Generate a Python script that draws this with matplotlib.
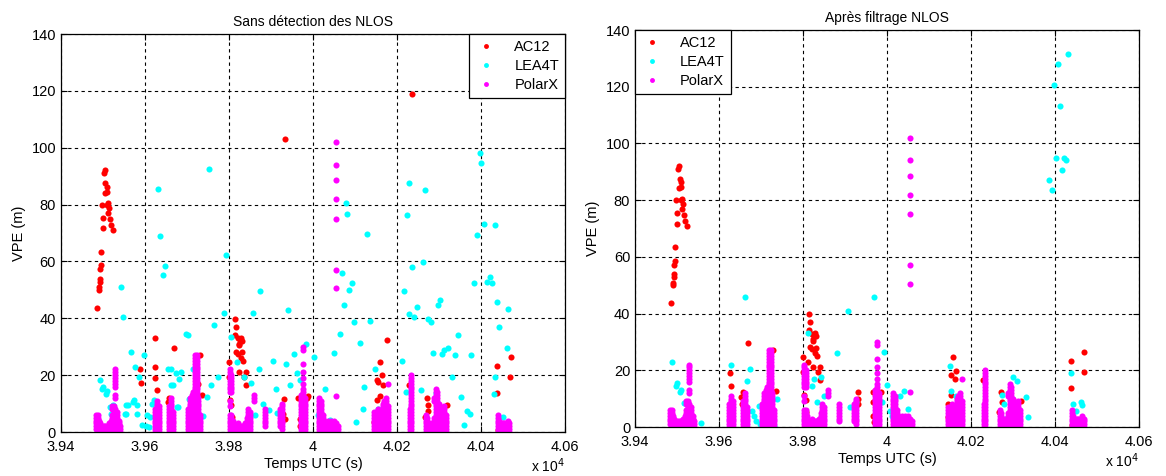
import matplotlib.pyplot as plt
from matplotlib.ticker import FuncFormatter, MultipleLocator

plt.rcParams['font.family'] = ['Liberation Sans', 'DejaVu Sans']

# AC12 without NLOS detection
ac12_raw_t = [39486, 39490, 39491, 39492, 39492, 39494, 39495, 39495, 39499, 39499, 39497, 39504,
              39502, 39506, 39509, 39505, 39510, 39514, 39513, 39516, 39519, 39523, 39509, 39512,
              39623, 39623, 39625, 39629, 39588, 39590, 39670, 39658, 39654, 39661, 39730, 39736, 39726,
              39814, 39816, 39815, 39821, 39826, 39830, 39824, 39817, 39821, 39831, 39829, 39833, 39824,
              39836, 39840, 39801, 39799, 39803, 39806, 39808, 39840, 39825, 39828,
              39933, 39930, 39928, 39933, 39965, 39969, 39968, 39988, 39985,
              40235, 40176, 40159, 40153, 40164, 40167, 40156, 40153, 40146, 40160,
              40229, 40272, 40274, 40266, 40275, 40320, 40439, 40439, 40441, 40472, 40470]
ac12_raw_vpe = [43.6, 50.1, 50.9, 52.9, 54.0, 57.2, 58.6, 63.5, 71.6, 75.4, 80.0, 92.0,
                91.0, 87.5, 86.3, 84.2, 79.9, 78.7, 77.0, 74.8, 72.8, 71.0, 84.5, 80.5,
                32.9, 22.9, 19.0, 14.7, 22.0, 17.4, 29.7, 12.0, 10.6, 7.6, 27.1, 12.9, 17.0,
                39.9, 37.0, 34.3, 32.9, 32.5, 32.0, 31.0, 28.2, 27.5, 28.0, 26.2, 24.9, 21.1,
                19.5, 16.5, 24.7, 19.4, 11.2, 9.4, 5.3, 21.1, 30.5, 33.0,
                103.1, 11.7, 6.5, 4.7, 12.1, 4.7, 2.0, 12.6, 12.0,
                119.0, 32.5, 24.7, 18.2, 20.0, 16.4, 17.5, 11.2, 3.5, 12.5,
                16.4, 12.1, 7.5, 5.3, 9.5, 9.4, 23.1, 13.7, 0.6, 26.4, 19.4]

# AC12 after NLOS filtering
ac12_filt_t = [39486, 39490, 39491, 39492, 39492, 39494, 39495, 39495, 39499, 39499, 39497, 39504,
               39502, 39506, 39509, 39505, 39510, 39514, 39513, 39516, 39519, 39523, 39509, 39512,
               39627, 39629, 39670, 39657, 39653, 39655, 39729, 39735,
               39814, 39816, 39815, 39821, 39826, 39830, 39824, 39817, 39821, 39831, 39829, 39833, 39824,
               39836, 39840, 39801, 39799, 39803, 39806, 39808, 39840, 39825, 39828, 39811,
               39931, 39931, 39930, 39967, 39967, 39967, 39968, 39985,
               40158, 40152, 40162, 40165, 40153, 40145, 40145,
               40229, 40272, 40273, 40266, 40318, 40438, 40438, 40441, 40469, 40469]
ac12_filt_vpe = [43.6, 50.1, 50.9, 52.9, 54.0, 57.2, 58.6, 63.5, 71.6, 75.4, 80.0, 92.0,
                 91.0, 87.5, 86.3, 84.2, 79.9, 78.7, 77.0, 74.8, 72.8, 71.0, 84.5, 80.5,
                 19.0, 14.6, 29.8, 12.2, 10.5, 8.1, 27.2, 12.8,
                 39.9, 37.0, 34.3, 32.9, 32.5, 32.0, 31.0, 28.2, 27.5, 28.0, 26.2, 24.9, 21.1,
                 19.5, 16.5, 24.7, 19.4, 11.2, 9.4, 5.3, 21.1, 30.5, 33.0, 22.8,
                 12.2, 9.9, 8.1, 12.2, 8.7, 4.0, 1.6, 12.2,
                 24.8, 18.3, 16.9, 19.8, 11.3, 8.1, 3.4,
                 16.7, 12.2, 8.7, 5.2, 9.3, 23.4, 13.6, 0.6, 26.3, 19.3]

# LEA4T without NLOS detection
lea_raw_t = [39492, 39499, 39497, 39507, 39510, 39485, 39519, 39523, 39544, 39548, 39567, 39556,
             39560, 39576, 39585, 39572, 39582, 39598, 39616, 39605, 39594, 39611, 39632, 39636,
             39642, 39647, 39661, 39666, 39673, 39682, 39698, 39702, 39686, 39715, 39677, 39704,
             39737, 39752, 39757, 39764, 39774, 39789, 39794, 39806, 39818, 39836, 39852, 39858,
             39862, 39871, 39875, 39880, 39896, 39904, 39911, 39915, 39937, 39941, 39946, 39956,
             39961, 39968, 39984, 40003, 40012, 40028, 40041, 40051, 40065, 40078, 40081, 40069,
             40073, 40087, 40092, 40098, 40102, 40113, 40120, 40128, 40137, 40122, 40147, 40155,
             40157, 40212, 40221, 40223, 40229, 40228, 40236, 40217, 40241, 40248, 40258, 40261,
             40267, 40273, 40280, 40287, 40294, 40298, 40302, 40307, 40311, 40322, 40331, 40338,
             40346, 40353, 40360, 40368, 40373, 40377, 40383, 40390, 40397, 40401, 40408, 40415,
             40421, 40426, 40433, 40439, 40443, 40452, 40463, 40465, 40434, 40432,
             39517, 39552, 39555, 39574, 39580, 39603, 39610, 39621, 39654, 39662, 39678, 39747]
lea_raw_vpe = [18.2, 15.9, 15.3, 13.5, 14.4, 1.5, 6.5, 9.4, 50.9, 40.3, 28.2, 6.5,
               9.4, 22.9, 19.4, 10.6, 6.5, 27.0, 10.0, 5.9, 2.3, 5.3, 85.4, 68.9,
               55.1, 58.4, 22.3, 16.4, 20.6, 18.8, 34.6, 34.1, 21.1, 22.0, 8.8, 11.7,
               5.5, 92.5, 16.4, 37.8, 19.4, 41.7, 62.2, 33.5, 24.7, 19.4, 17.3, 41.9,
               5.9, 22.0, 49.6, 10.0, 7.9, 25.0, 15.0, 6.7, 24.1, 42.9, 16.4, 27.4,
               20.8, 18.2, 30.8, 26.4, 5.9, 15.3, 4.1, 27.8, 34.6, 80.4, 76.7, 55.8,
               44.6, 50.1, 52.5, 38.8, 3.5, 31.4, 8.2, 69.6, 39.0, 15.9, 22.3, 8.2,
               2.9, 25.0, 14.1, 76.3, 87.7, 41.5, 57.9, 49.7, 40.3, 44.0, 14.9, 59.9,
               85.2, 39.9, 38.8, 27.8, 13.7, 44.6, 46.4, 27.6, 29.0, 29.6, 19.4, 27.0,
               34.3, 12.3, 2.3, 7.4, 6.5, 27.2, 52.3, 69.3, 98.3, 94.8, 73.1, 52.9,
               54.6, 52.3, 72.8, 45.8, 37.0, 5.3, 29.4, 43.1, 19.4, 13.5,
               8.9, 6.3, 9.6, 11.1, 9.6, 2.0, 1.9, 11.1, 22.2, 16.7, 8.7, 12.2]

# LEA4T after NLOS filtering
lea_filt_t = [39488, 39501, 39497, 39510, 39506, 39517, 39556, 39629, 39661, 39673, 39666,
              39678, 39683, 39688, 39698, 39704, 39695, 39737, 39731, 39813, 39822, 39827, 39842,
              39833, 39851, 39882, 39907, 39913, 39927, 39968, 39993, 39999, 40007, 40011, 39987,
              40031, 40040, 40051, 40149, 40153, 40160, 40165, 40273, 40278, 40282, 40300, 40309,
              40331, 40336, 40398, 40407, 40432, 40413, 40402, 40422, 40427, 40416, 40387, 40392,
              40438, 40443, 40451, 40461, 40464]
lea_filt_vpe = [22.8, 15.7, 14.6, 13.2, 12.5, 8.5, 1.4, 21.8, 45.7, 20.4, 16.1,
                5.8, 4.0, 2.2, 1.1, 0.7, 7.5, 9.9, 0.5, 33.0, 14.6, 17.1, 17.5,
                8.9, 10.8, 26.0, 40.8, 6.9, 8.8, 46.0, 26.5, 14.8, 5.8, 4.0, 8.7,
                10.8, 12.8, 6.3, 21.6, 12.8, 6.9, 11.0, 11.4, 8.1, 2.8, 17.5, 16.1,
                10.5, 3.4, 120.5, 127.9, 131.7, 113.2, 95.0, 94.7, 94.2, 90.7, 87.0, 83.6,
                19.0, 8.1, 5.8, 8.7, 7.6]

# PolarX (identical in both panels): (time, VPE values recorded at that epoch)
polarx_cols = [
    (39484, [1, 2, 3, 4, 5, 6]),
    (39487, [0, 1, 2, 3, 4, 5, 6]),
    (39490, [0, 1, 2, 3, 4]),
    (39494, [0, 1, 2, 3]),
    (39498, [0, 1, 2]),
    (39502, [0, 1, 2]),
    (39506, [0, 1, 2]),
    (39510, [0, 1, 2]),
    (39514, [0, 1, 2, 3]),
    (39518, [0, 1, 2, 3, 4]),
    (39522, [0, 1, 2, 3, 4, 5, 6, 8, 9]),
    (39526, [0, 1, 2, 3, 4, 5, 6, 7, 9]),
    (39529, [0, 1, 2, 3, 4, 5, 6, 7, 8, 12, 13, 16, 17, 18, 19, 20, 21, 22]),
    (39533, [0, 1, 2, 3, 4, 5, 6, 7]),
    (39537, [0, 1, 2, 3, 4]),
    (39540, [0, 1, 2]),
    (39625, [0, 1, 2, 3, 4, 5, 6, 7, 8]),
    (39629, [0, 1, 2, 3, 4, 5, 6, 7, 8, 9, 10, 11]),
    (39633, [0, 1, 2, 3, 4, 5, 6, 7, 8, 9]),
    (39657, [0, 1, 2, 3, 4, 5, 6, 7, 8, 9]),
    (39661, [0, 1, 2, 3, 4, 5, 6, 7, 8, 9, 10, 11, 12]),
    (39666, [0, 1, 2, 3, 4, 5, 6, 7]),
    (39703, [0, 1, 2, 3, 4, 5, 6, 7, 8]),
    (39707, [0, 1, 2, 3, 4, 5, 6, 7, 8, 9, 10, 11, 12]),
    (39711, [0, 1, 2, 3, 4, 5, 6, 7, 8, 9, 10, 11, 12, 13]),
    (39715, [0, 1, 2, 3, 4, 5, 6, 7, 8, 9, 10, 11, 12, 13, 14]),
    (39719, [0, 1, 2, 3, 4, 5, 6, 7, 8, 9, 10, 11, 12, 13, 14, 15, 16, 17, 18, 19, 20,
             21, 22, 23, 24, 25, 26, 27]),
    (39723, [0, 1, 2, 3, 4, 5, 6, 7, 8, 9, 10, 11, 12, 13, 14, 15, 16, 17, 18, 19, 20,
             21, 22, 23, 24, 25, 26, 27]),
    (39727, [0, 1, 2, 3, 4, 5, 6, 7, 8, 9, 10, 11, 12]),
    (39731, [0, 1, 2, 3, 4, 5, 6]),
    (39802, [0, 1, 2, 3, 4, 5, 6, 9, 11, 14, 15, 16, 17, 18, 19, 20, 21, 22]),
    (39806, [0, 1, 2, 3, 4, 5, 6, 14, 15, 16, 17, 18, 19, 20]),
    (39810, [0, 1, 2, 3, 4]),
    (39814, [0, 1, 2]),
    (39818, [0, 1, 2]),
    (39822, [0, 1, 2, 3]),
    (39826, [0, 1, 2]),
    (39830, [0, 1, 2]),
    (39834, [0, 1, 2]),
    (39838, [0, 1, 2, 3]),
    (39842, [0, 1, 2, 3, 4, 5]),
    (39846, [0, 1, 2, 3, 4, 5, 6, 7, 8]),
    (39850, [0, 1, 2, 3, 4, 5, 6, 7]),
    (39860, [11, 12, 13]),
    (39885, [2, 3, 4, 5, 6, 7, 8]),
    (39922, [2, 3, 4, 5, 6, 7, 8]),
    (39927, [1, 2, 3, 4, 5, 6, 7, 8, 9, 10]),
    (39972, [0, 1, 2, 3, 4, 5, 6, 7, 8, 9, 10, 11, 12, 13]),
    (39976, [0, 1, 2, 3, 4, 5, 6, 7, 8, 9, 10, 11, 12, 13, 14, 15, 17, 19, 21, 24, 29, 30]),
    (39980, [0, 1, 2, 3, 4, 5, 6, 7, 8, 9, 10, 11, 12]),
    (40015, [0, 1, 2, 3, 4, 5, 6, 7, 8, 9, 10, 11, 12]),
    (40019, [0, 1, 2, 3, 4, 5, 6, 7, 8, 9, 10, 11]),
    (40023, [0, 1, 2, 3, 4, 5, 6]),
    (40027, [0, 1, 2, 3, 4]),
    (40031, [0, 1, 2, 3]),
    (40035, [0, 1, 2, 3, 4]),
    (40039, [0, 1, 2, 3]),
    (40043, [0, 1, 2, 3, 4]),
    (40047, [0, 1, 2, 3]),
    (40051, [0, 1, 2, 3, 4]),
    (40055, [0, 1, 2, 3]),
    (40059, [0, 1, 2]),
    (40056, [12.5, 50.5, 57, 75, 82, 88.5, 94, 102]),
    (40146, [0, 1, 2, 3, 4, 5, 6, 7]),
    (40150, [0, 1, 2, 3, 4, 5]),
    (40154, [0, 1, 2, 3, 4, 5, 6, 7, 8]),
    (40158, [0, 1, 2, 3, 4]),
    (40162, [0, 1, 2, 3, 4, 5]),
    (40166, [0, 1, 2, 3, 4, 5, 6, 7, 8, 9, 10]),
    (40170, [0, 1, 2, 3, 4, 5, 6, 7, 8, 9, 10, 11]),
    (40174, [0, 1, 2, 3, 4, 5, 6, 7, 8, 9, 10, 11, 12]),
    (40178, [0, 1, 2, 3, 4, 5, 6, 7, 8, 9, 17]),
    (40230, [0, 1, 2, 3, 4, 5, 6, 7, 8]),
    (40234, [0, 1, 2, 3, 4, 5, 6, 7, 8, 9, 10, 11, 12, 13, 14, 15, 16, 17, 18, 19, 20]),
    (40268, [0, 1, 2, 3, 4, 5, 6]),
    (40272, [0, 1, 2, 3, 4, 5]),
    (40276, [0, 1, 2, 3]),
    (40280, [0, 1, 2]),
    (40284, [0, 1, 2, 3]),
    (40288, [0, 1, 2, 3, 4, 5, 11, 12]),
    (40292, [0, 1, 2, 3, 4, 5, 6, 7, 8, 9, 10, 11, 12, 13, 14, 15]),
    (40296, [0, 1, 2, 3, 4, 5, 6, 7, 8, 9, 10, 11, 12, 13, 14]),
    (40300, [0, 1, 2, 3, 4, 5, 6, 7, 8, 9, 10]),
    (40304, [0, 1, 2, 3, 4, 5, 6, 7, 8]),
    (40308, [0, 1, 2, 3, 4, 5, 6, 7, 8]),
    (40312, [0, 1, 2, 3, 4, 5, 6, 7, 8, 9]),
    (40316, [0, 1, 2, 3, 4, 5, 6]),
    (40440, [0, 1, 2, 3, 4, 5, 6]),
    (40444, [0, 1, 2, 3, 4]),
    (40448, [0, 1, 2, 3]),
    (40452, [0, 1, 2, 3]),
    (40456, [0, 1, 2, 3]),
    (40460, [0, 1, 2, 3]),
    (40464, [0, 1, 2, 3, 4]),
    (40468, [0, 1, 2, 3]),
]
polarx_t = [t for t, ys in polarx_cols for _ in ys]
polarx_vpe = [y for _, ys in polarx_cols for y in ys]

titles = ['Sans détection des NLOS', 'Après filtrage NLOS']
ac12_sets = [(ac12_raw_t, ac12_raw_vpe), (ac12_filt_t, ac12_filt_vpe)]
lea_sets = [(lea_raw_t, lea_raw_vpe), (lea_filt_t, lea_filt_vpe)]
legend_locs = ['upper right', 'upper left']

fig = plt.figure(figsize=(11.66, 4.76), dpi=100)
axes = [fig.add_axes([0.0523, 0.0924, 0.4322, 0.8361]),
        fig.add_axes([0.5446, 0.1029, 0.4322, 0.8340])]

ms = 4.4
for ax, title, (at, av), (lt, lv), loc in zip(axes, titles, ac12_sets, lea_sets, legend_locs):
    ax.plot(at, av, 'o', color='#ff0000', ms=ms, mew=0, label='AC12')
    ax.plot(lt, lv, 'o', color='#00ffff', ms=ms, mew=0, label='LEA4T')
    ax.plot(polarx_t, polarx_vpe, 'o', color='#ff00ff', ms=ms, mew=0, label='PolarX')

    ax.set_xlim(39400, 40600)
    ax.set_ylim(0, 140)
    ax.xaxis.set_major_locator(MultipleLocator(200))
    ax.yaxis.set_major_locator(MultipleLocator(20))
    ax.xaxis.set_major_formatter(FuncFormatter(lambda v, p: '%g' % round(v / 1e4, 4)))
    ax.grid(True, color='black', linestyle=(0, (3, 3)), linewidth=0.8)
    ax.tick_params(direction='in', top=True, right=True, labelsize=10.5, length=4)
    ax.tick_params(axis='x', pad=6)
    for s in ax.spines.values():
        s.set_linewidth(0.9)

    ax.set_title(title, fontsize=10)
    ax.set_xlabel('Temps UTC (s)', fontsize=10.5, labelpad=2)
    ax.set_ylabel('VPE (m)', fontsize=10.5)
    ax.text(1.0, -0.062, r'x 10$^4$', transform=ax.transAxes, ha='right', va='top',
            fontsize=10)

    leg = ax.legend(loc=loc, fontsize=10.5, frameon=True, fancybox=False,
                    edgecolor='black', framealpha=1, borderaxespad=0,
                    handlelength=1.5, handletextpad=1.2, labelspacing=0.35,
                    borderpad=0.4, markerscale=0.8)
    leg.get_frame().set_linewidth(0.9)

plt.savefig('out.png', dpi=100)
